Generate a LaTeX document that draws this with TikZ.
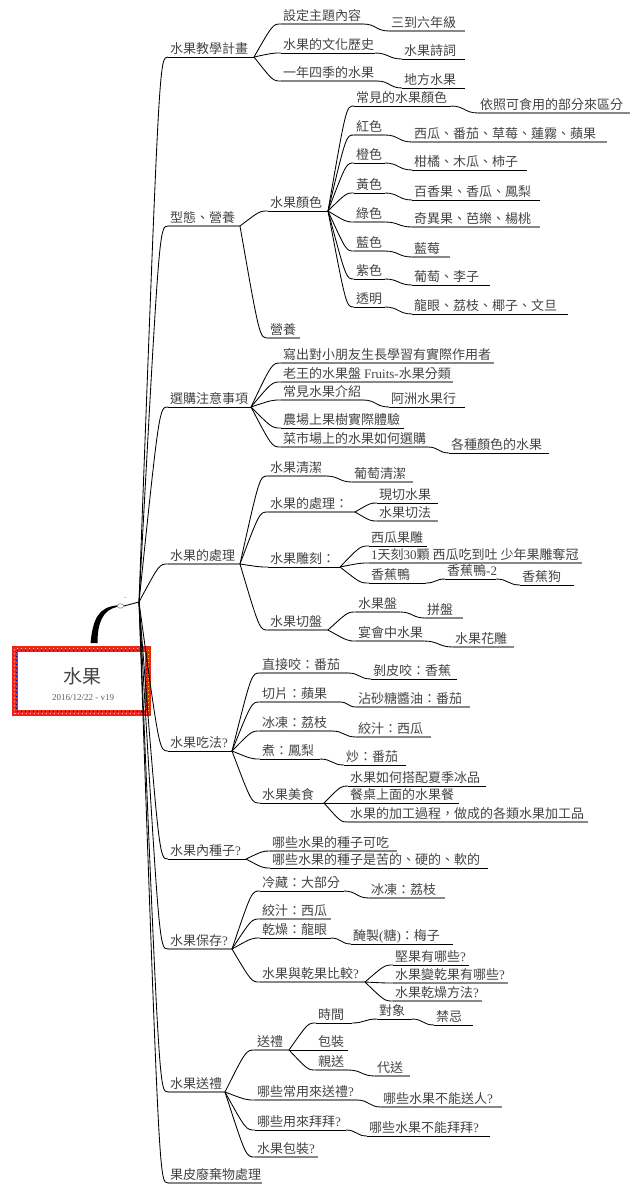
\documentclass[tikz,border=0pt]{standalone}
\usepackage{fontspec}
\setmainfont{Noto Sans CJK TC}
\newfontfamily\lat{Liberation Serif}
\usetikzlibrary{calc}
\definecolor{gl}{HTML}{878787}
\definecolor{txt}{HTML}{444444}
\definecolor{redb}{HTML}{E8271F}
\tikzset{
  gline/.style={draw=gl, line width=1.8pt},
  bline/.style={draw=black, line width=0.9pt},
  conn/.style={draw=black, line width=0.85pt},
  lbl/.style={anchor=base west, inner sep=0pt, font=\fontsize{13}{13}\selectfont, text=txt},
}
\newcommand\mtopic[6]{%
  \coordinate (#1-s) at (#2,#4);
  \coordinate (#1-e) at (#3,#4);
  \draw[#5] (#1-s) -- (#1-e);
  \node[lbl] (#1) at ({#2+2},{#4-3.5}) {#6};
}
\newcommand\brc[3][0.7]{%
  \path ($(#2-e)!#1!(#3-s)$) coordinate (tmpc);
  \draw[conn] (#2-e) .. controls (tmpc |- #3-s) and (tmpc |- #3-s) .. (#3-s);
}
\newcommand\scurve[2]{%
  \path ($(#1-e)!0.5!(#2-s)$) coordinate (tmpc);
  \draw[conn] (#1-e) .. controls (tmpc |- #1-e) and (tmpc |- #2-s) .. (#2-s);
}
\newcommand\q{{\lat ?}}
\begin{document}
\begin{tikzpicture}[x=1pt,y=-1pt]
\useasboundingbox (0,0) rectangle (641,1197);
\fill[white] (0,0) rectangle (641,1197);

% ---------- root ----------
\node[minimum width=139pt, minimum height=70pt, inner sep=0pt] (root) at (81.5,681) {};
\draw[redb, line width=6pt] ($(root.north west)+(3,3)$) rectangle ($(root.south east)+(-3,-3)$);
\draw[yellow!80!orange, line width=1.1pt, dash pattern=on 1pt off 3pt] ($(root.north west)+(3,3)$) rectangle ($(root.south east)+(-3,-3)$);
\draw[blue!60!black, line width=1.1pt, dash pattern=on 1pt off 3pt, dash phase=2pt] ($(root.north west)+(4.5,4.5)$) rectangle ($(root.south east)+(-4.5,-4.5)$);
\node[font=\fontsize{19}{19}\selectfont, text=txt, inner sep=0pt] (rtitle) at (82,676) {水果};
\node[font=\lat\fontsize{9}{9}\selectfont, text=gl!70!black, inner sep=0pt] (rsub) at (83,698) {2016/12/22 - v19};

\coordinate (hub) at (139,602);
\coordinate (hub-e) at (139,602);
\node[draw=gl, fill=white, rounded corners=1.5pt, minimum width=6pt, minimum height=4pt, inner sep=0pt, line width=0.6pt] (knob) at (120.5,606) {};
\fill[black] (90.5,643) .. controls (93,618) and (99,607) .. ($(knob.west)+(0,-0.6)$) -- ($(knob.west)+(0,0.8)$) .. controls (103,610) and (97.5,622) .. (97.5,643) -- cycle;
\draw[conn] (knob.east) -- (hub);
\node[font=\fontsize{6}{6}\selectfont, text=txt, inner sep=0pt] (collapse) at (125.5,598.5) {-};

% ---------- main branches ----------
\mtopic{m1}{168}{254}{57}{bline}{水果教學計畫}
\mtopic{m2}{168}{240}{226}{gline}{型態、營養}
\mtopic{m3}{168}{251}{407}{bline}{選購注意事項}
\mtopic{m4}{168}{240}{564}{gline}{水果的處理}
\mtopic{m5}{168}{232}{751}{bline}{水果吃法\q}
\mtopic{m6}{168}{246}{859}{bline}{水果內種子\q}
\mtopic{m7}{168}{232}{949}{gline}{水果保存\q}
\mtopic{m8}{168}{225}{1092}{gline}{水果送禮}
\mtopic{m9}{168}{262}{1183}{gline}{果皮廢棄物處理}
\foreach \m in {m1,m2,m3,m4,m5,m6,m7,m8,m9} {\brc{hub}{\m}}

% ---------- 水果教學計畫 ----------
\mtopic{a1}{281}{363}{24}{gline}{設定主題內容}
\mtopic{a1x}{389}{465}{31}{gline}{三到六年級}
\mtopic{a2}{281}{375}{53}{bline}{水果的文化歷史}
\mtopic{a2x}{402}{465}{59}{bline}{水果詩詞}
\mtopic{a3}{281}{377}{81}{gline}{一年四季的水果}
\mtopic{a3x}{402}{465}{88}{bline}{地方水果}
\brc{m1}{a1}\brc{m1}{a2}\brc{m1}{a3}
\scurve{a1}{a1x}\scurve{a2}{a2x}\scurve{a3}{a3x}

% ---------- 型態、營養 ----------
\mtopic{b1}{268}{328}{211}{bline}{水果顏色}
\mtopic{b2}{268}{300}{338}{gline}{營養}
\brc{m2}{b1}\brc{m2}{b2}
\mtopic{c0}{354}{451}{106}{bline}{常見的水果顏色}
\mtopic{c0x}{478}{630}{113}{gline}{依照可食用的部分來區分}
\mtopic{c1}{354}{385}{135}{gline}{紅色}
\mtopic{c1x}{412}{607}{142}{gline}{西瓜、番茄、草莓、蓮霧、蘋果}
\mtopic{c2}{354}{385}{163}{bline}{橙色}
\mtopic{c2x}{412}{527}{170}{bline}{柑橘、木瓜、柿子}
\mtopic{c3}{354}{385}{193}{bline}{黃色}
\mtopic{c3x}{412}{540}{200}{bline}{百香果、香瓜、鳳梨}
\mtopic{c4}{354}{385}{222}{gline}{綠色}
\mtopic{c4x}{412}{540}{227}{gline}{奇異果、芭樂、楊桃}
\mtopic{c5}{354}{385}{251}{gline}{藍色}
\mtopic{c5x}{412}{450}{257}{gline}{藍莓}
\mtopic{c6}{354}{385}{279}{bline}{紫色}
\mtopic{c6x}{412}{490}{285}{bline}{葡萄、李子}
\mtopic{c7}{354}{385}{307}{bline}{透明}
\mtopic{c7x}{412}{568}{314}{bline}{龍眼、荔枝、椰子、文旦}
\foreach \c in {c0,c1,c2,c3,c4,c5,c6,c7} {\brc{b1}{\c}\scurve{\c}{\c x}}

% ---------- 選購注意事項 ----------
\mtopic{d1}{281}{494}{363}{gline}{寫出對小朋友生長學習有實際作用者}
\mtopic{d2}{281}{453}{382}{gline}{老王的水果盤 {\lat Fruits-}水果分類}
\mtopic{d3}{281}{363}{400}{gline}{常見水果介紹}
\mtopic{d3x}{389}{465}{407}{bline}{阿洲水果行}
\mtopic{d4}{281}{404}{428}{bline}{農場上果樹實際體驗}
\mtopic{d5}{281}{428}{447}{gline}{菜市場上的水果如何選購}
\mtopic{d5x}{449}{549}{453}{bline}{各種顏色的水果}
\foreach \d in {d1,d2,d3,d4,d5} {\brc{m3}{\d}}
\scurve{d3}{d3x}\scurve{d5}{d5x}

% ---------- 水果的處理 ----------
\mtopic{e1}{268}{326}{476}{gline}{水果清潔}
\mtopic{e1x}{352}{413}{482}{gline}{葡萄清潔}
\mtopic{e2}{268}{355}{512}{gline}{水果的處理：}
\mtopic{e2a}{377}{438}{503}{bline}{現切水果}
\mtopic{e2b}{377}{438}{521}{gline}{水果切法}
\mtopic{e3}{268}{340}{567}{bline}{水果雕刻：}
\mtopic{e3a}{369}{427}{546}{bline}{西瓜果雕}
\mtopic{e3b}{369}{582}{563}{gline}{{\lat 1}天刻{\lat 30}顆 西瓜吃到吐 少年果雕奪冠}
\mtopic{e3c}{369}{426}{583}{bline}{香蕉鴨}
\mtopic{e3cx}{445}{496}{579}{bline}{香蕉鴨{\lat -2}}
\mtopic{e3cxx}{520}{574}{585}{bline}{香蕉狗}
\mtopic{e4}{268}{328}{630}{gline}{水果切盤}
\mtopic{e4a}{356}{400}{612}{gline}{水果盤}
\mtopic{e4ax}{425}{463}{618}{gline}{拼盤}
\mtopic{e4b}{356}{424}{641}{gline}{宴會中水果}
\mtopic{e4bx}{453}{514}{647}{gline}{水果花雕}
\foreach \e in {e1,e2,e3,e4} {\brc{m4}{\e}}
\scurve{e1}{e1x}
\brc{e2}{e2a}\brc{e2}{e2b}
\brc{e3}{e3a}\brc{e3}{e3b}\brc{e3}{e3c}
\scurve{e3c}{e3cx}\scurve{e3cx}{e3cxx}
\brc{e4}{e4a}\brc{e4}{e4b}
\scurve{e4a}{e4ax}\scurve{e4b}{e4bx}

% ---------- 水果吃法? ----------
\mtopic{f1}{260}{348}{673}{gline}{直接咬：番茄}
\mtopic{f1x}{371}{457}{679}{bline}{剝皮咬：香蕉}
\mtopic{f2}{260}{340}{702}{gline}{切片：蘋果}
\mtopic{f2x}{356}{470}{707}{gline}{沾砂糖醬油：番茄}
\mtopic{f3}{260}{332}{731}{gline}{冰凍：荔枝}
\mtopic{f3x}{356}{431}{737}{gline}{絞汁：西瓜}
\mtopic{f4}{260}{320}{759}{bline}{煮：鳳梨}
\mtopic{f4x}{344}{406}{765}{bline}{炒：番茄}
\mtopic{f5}{260}{324}{803}{bline}{水果美食}
\mtopic{f5a}{348}{486}{786}{bline}{水果如何搭配夏季冰品}
\mtopic{f5b}{348}{459}{803}{bline}{餐桌上面的水果餐}
\mtopic{f5c}{348}{588}{822}{gline}{水果的加工過程，做成的各類水果加工品}
\foreach \f in {f1,f2,f3,f4,f5} {\brc{m5}{\f}}
\scurve{f1}{f1x}\scurve{f2}{f2x}\scurve{f3}{f3x}\scurve{f4}{f4x}
\brc{f5}{f5a}\brc{f5}{f5b}\brc{f5}{f5c}

% ---------- 水果內種子? ----------
\mtopic{g1}{270}{397}{851}{gline}{哪些水果的種子可吃}
\mtopic{g2}{270}{488}{868}{bline}{哪些水果的種子是苦的、硬的、軟的}
\brc{m6}{g1}\brc{m6}{g2}

% ---------- 水果保存? ----------
\mtopic{h1}{260}{344}{891}{bline}{冷藏：大部分}
\mtopic{h1x}{369}{445}{898}{gline}{冰凍：荔枝}
\mtopic{h2}{260}{331}{919}{gline}{絞汁：西瓜}
\mtopic{h3}{260}{331}{938}{bline}{乾燥：龍眼}
\mtopic{h3x}{351}{453}{944}{bline}{醃製{\lat (}糖{\lat )}：梅子}
\mtopic{h4}{260}{365}{982}{gline}{水果與乾果比較\q}
\mtopic{h4a}{393}{469}{965}{bline}{堅果有哪些\q}
\mtopic{h4b}{393}{508}{983}{gline}{水果變乾果有哪些\q}
\mtopic{h4c}{393}{482}{1001}{gline}{水果乾燥方法\q}
\foreach \h in {h1,h2,h3,h4} {\brc{m7}{\h}}
\scurve{h1}{h1x}\scurve{h3}{h3x}
\brc{h4}{h4a}\brc{h4}{h4b}\brc{h4}{h4c}

% ---------- 水果送禮 ----------
\mtopic{i1}{255}{289}{1050}{gline}{送禮}
\mtopic{i1a}{316}{352}{1023}{bline}{時間}
\mtopic{i1ax}{377}{412}{1019}{bline}{對象}
\mtopic{i1axx}{434}{473}{1025}{bline}{禁忌}
\mtopic{i1b}{316}{348}{1050}{bline}{包裝}
\mtopic{i1c}{316}{348}{1070}{gline}{親送}
\mtopic{i1cx}{375}{410}{1076}{gline}{代送}
\mtopic{i2}{255}{357}{1100}{gline}{哪些常用來送禮\q}
\mtopic{i2x}{381}{502}{1107}{gline}{哪些水果不能送人\q}
\mtopic{i3}{255}{346}{1130}{bline}{哪些用來拜拜\q}
\mtopic{i3x}{367}{490}{1136}{bline}{哪些水果不能拜拜\q}
\mtopic{i4}{255}{318}{1157}{gline}{水果包裝\q}
\foreach \i in {i1,i2,i3,i4} {\brc{m8}{\i}}
\brc{i1}{i1a}\brc{i1}{i1b}\brc{i1}{i1c}
\scurve{i1a}{i1ax}\scurve{i1ax}{i1axx}\scurve{i1c}{i1cx}
\scurve{i2}{i2x}\scurve{i3}{i3x}
\end{tikzpicture}
\end{document}
